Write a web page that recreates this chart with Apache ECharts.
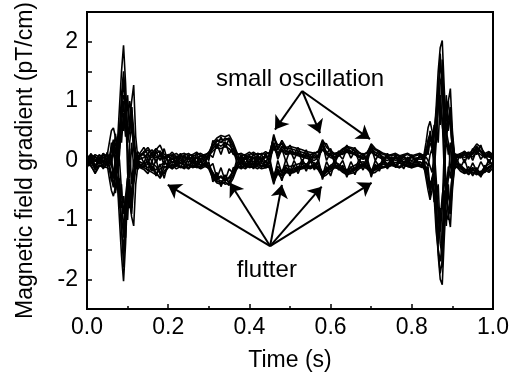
<!DOCTYPE html>
<html>
<head>
<meta charset="utf-8">
<script src="https://cdn.jsdelivr.net/npm/echarts@6/dist/echarts.min.js"></script>
<style>html,body{margin:0;padding:0;background:#fff}#c{width:527px;height:377px}</style>
</head>
<body>
<div id="c"></div>
<script>
// time samples (s)
const T = [0,0.01,0.02,0.03,0.04,0.05,
 0.055,0.06,0.065,0.07,0.075,0.08,0.085,0.09,0.095,0.1,0.105,0.11,0.115,0.12,0.125,0.13,
 0.14,0.15,0.16,0.17,0.18,0.19,0.2,0.21,0.22,0.23,0.24,0.25,0.26,0.27,0.28,0.29,0.3,0.31,0.32,0.33,0.34,0.35,0.36,0.37,0.38,0.39,0.4,0.41,0.42,0.43,0.44,0.45,0.46,0.47,0.48,0.49,
 0.5,0.51,0.52,0.53,0.54,0.55,0.56,0.57,0.58,0.59,0.6,0.61,0.62,0.63,0.64,0.65,0.66,0.67,0.68,0.69,0.7,0.71,0.72,0.73,0.74,0.75,0.76,0.77,0.78,0.79,0.8,0.81,0.82,
 0.825,0.83,0.835,0.84,0.845,0.85,0.855,0.86,0.865,0.87,0.875,0.88,0.885,0.89,0.895,0.9,0.905,0.91,
 0.92,0.93,0.94,0.95,0.96,0.97,0.98,0.99,1.0];

// channel traces (pT/cm)
const ch1 = [0.05,0.08,-0.02,0.1,0.04,0.08,
 0.02,0.15,0.25,0.1,0.3,0.9,1.5,1.94,1.3,0.4,0.6,0.9,0.5,0.1,0.05,0.12,
 0.22,0.1,0.05,0.18,0.26,0.1,0.08,0.14,0.06,0.1,0.12,0.08,0.1,0.14,0.08,0.1,0.12,0.3,0.38,0.42,0.4,0.43,0.3,0.12,0.08,0.1,0.14,0.08,0.12,0.1,0.15,0.1,0.44,0.2,0.34,0.22,
 0.24,0.22,0.2,0.18,0.15,0.14,0.12,0.16,0.35,0.22,0.16,0.12,0.14,0.2,0.24,0.22,0.2,0.14,0.1,0.12,0.28,0.2,0.16,0.12,0.1,0.08,0.1,0.06,0.08,0.1,0.06,0.08,0.1,
 0.05,0.1,0.08,0.2,0.3,0.2,0.4,0.9,1.5,1.9,2.02,1.2,0.5,0.7,0.9,0.4,0.1,0.08,
 0.12,0.15,0.1,0.18,0.28,0.22,0.12,0.15,0.1];
const ch2 = [-0.05,-0.1,-0.2,-0.08,-0.12,-0.06,
 -0.1,-0.2,-0.3,-0.15,-0.4,-1.0,-1.6,-2.03,-1.4,-0.5,-0.7,-0.9,-0.4,-0.15,-0.08,-0.12,
 -0.15,-0.22,-0.1,-0.2,-0.3,-0.18,-0.1,-0.14,-0.08,-0.12,-0.1,-0.14,-0.08,-0.12,-0.1,-0.08,-0.14,-0.3,-0.38,-0.4,-0.36,-0.42,-0.3,-0.12,-0.1,-0.14,-0.08,-0.12,-0.1,-0.14,-0.12,-0.1,-0.36,-0.22,-0.3,-0.2,
 -0.22,-0.2,-0.16,-0.14,-0.12,-0.14,-0.1,-0.16,-0.28,-0.24,-0.18,-0.12,-0.14,-0.2,-0.24,-0.22,-0.2,-0.14,-0.1,-0.14,-0.22,-0.2,-0.14,-0.12,-0.1,-0.08,-0.1,-0.12,-0.08,-0.1,-0.12,-0.08,-0.1,
 -0.08,-0.12,-0.1,-0.25,-0.4,-0.3,-0.5,-1.0,-1.6,-2.0,-2.09,-1.3,-0.6,-0.8,-0.9,-0.4,-0.15,-0.1,
 -0.18,-0.22,-0.15,-0.2,-0.24,-0.18,-0.2,-0.12,-0.1];
const ch3 = [0.02,-0.04,0.06,0.0,0.05,0.02,
 0.0,0.05,0.1,0.0,-0.2,0.1,0.6,1.0,0.5,0.3,0.7,1.0,1.27,0.4,0.05,0.08,
 0.1,0.05,0.12,0.04,0.08,0.02,0.06,0.1,0.03,0.07,0.05,0.02,0.06,0.04,0.08,0.05,0.1,0.2,0.28,0.24,0.3,0.26,0.18,0.06,0.03,0.05,0.08,0.04,0.06,0.02,0.05,0.08,0.3,0.12,0.24,0.15,
 0.16,0.14,0.12,0.1,0.08,0.06,0.05,0.1,0.26,0.14,0.1,0.06,0.1,0.15,0.18,0.16,0.12,0.08,0.05,0.08,0.2,0.14,0.1,0.06,0.04,0.06,0.03,0.05,0.02,0.04,0.06,0.03,0.05,
 0.04,0.02,0.06,0.0,-0.1,-0.2,0.1,0.5,0.9,1.1,0.6,0.3,0.7,1.0,1.21,0.5,0.1,0.05,
 0.08,0.05,0.1,0.06,0.15,0.1,0.05,0.08,0.04];
const ch4 = [-0.02,0.03,-0.08,-0.04,0.0,-0.05,
 -0.03,-0.08,-0.2,-0.05,0.2,0.0,-0.5,-0.9,-0.6,-0.3,-0.7,-0.95,-1.1,-0.4,-0.1,-0.06,
 -0.08,-0.12,-0.05,-0.1,-0.2,-0.22,-0.12,-0.06,-0.1,-0.04,-0.08,-0.06,-0.1,-0.05,-0.08,-0.04,-0.1,-0.2,-0.32,-0.28,-0.35,-0.3,-0.2,-0.08,-0.05,-0.1,-0.06,-0.08,-0.04,-0.1,-0.06,-0.08,-0.3,-0.16,-0.2,-0.12,
 -0.16,-0.14,-0.1,-0.12,-0.08,-0.1,-0.06,-0.12,-0.24,-0.18,-0.12,-0.08,-0.1,-0.16,-0.2,-0.18,-0.14,-0.1,-0.06,-0.1,-0.18,-0.14,-0.1,-0.06,-0.08,-0.05,-0.08,-0.04,-0.06,-0.08,-0.05,-0.07,-0.04,
 -0.04,-0.06,-0.02,-0.1,0.1,0.2,-0.1,-0.5,-0.8,-1.0,-0.6,-0.3,-0.6,-0.9,-1.12,-0.5,-0.12,-0.06,
 -0.1,-0.16,-0.22,-0.14,-0.2,-0.24,-0.15,-0.1,-0.06];
const ch5 = [0.0,0.06,0.02,-0.06,0.08,0.1,
 0.3,0.5,0.55,0.4,0.1,-0.6,-1.2,-1.5,-0.9,-0.3,-0.5,-0.7,-0.3,0.0,0.05,0.02,
 0.05,0.12,0.18,0.08,0.02,0.06,0.0,0.04,-0.02,0.03,0.0,0.05,0.02,-0.02,0.04,0.0,0.06,0.25,0.35,0.3,0.38,0.34,0.22,0.04,0.0,0.05,0.02,-0.02,0.04,0.0,0.06,0.02,0.25,0.08,0.2,0.1,
 0.12,0.1,0.08,0.06,0.04,0.02,0.0,0.06,0.2,0.1,0.05,0.02,0.08,0.12,0.16,0.14,0.1,0.05,0.02,0.06,0.16,0.1,0.05,0.02,0.0,0.04,0.0,0.03,-0.02,0.02,0.0,0.04,0.02,
 0.02,0.1,0.3,0.55,0.66,0.5,0.2,-0.3,-0.9,-1.4,-1.6,-1.0,-0.4,-0.6,-0.7,-0.2,0.0,0.05,
 0.06,0.1,0.04,0.12,0.2,0.14,0.06,0.1,0.05];
const ch6 = [-0.06,0.0,-0.1,0.04,-0.04,-0.08,
 -0.3,-0.5,-0.6,-0.45,-0.1,0.5,1.1,1.5,1.0,0.3,0.5,0.7,0.3,0.0,-0.05,-0.02,
 -0.06,-0.02,-0.1,-0.16,-0.08,-0.04,-0.08,-0.02,-0.06,0.0,-0.04,-0.08,-0.02,-0.06,-0.03,-0.07,-0.05,-0.22,-0.3,-0.26,-0.32,-0.28,-0.18,-0.05,-0.02,-0.06,-0.03,-0.07,-0.02,-0.05,-0.08,-0.03,-0.25,-0.1,-0.18,-0.08,
 -0.1,-0.08,-0.06,-0.04,-0.06,-0.02,-0.04,-0.08,-0.2,-0.14,-0.08,-0.04,-0.06,-0.12,-0.16,-0.12,-0.08,-0.04,-0.02,-0.06,-0.16,-0.1,-0.06,-0.03,-0.05,-0.02,-0.04,0.0,-0.03,-0.05,-0.02,-0.04,-0.02,
 -0.04,-0.1,-0.3,-0.5,-0.66,-0.5,-0.2,0.3,0.9,1.3,1.5,1.0,0.4,0.6,0.7,0.2,0.0,-0.04,
 -0.08,-0.14,-0.18,-0.12,-0.16,-0.2,-0.1,-0.06,-0.04];
const ch7 = [0.04,0.1,0.06,0.02,0.12,0.05,
 0.1,0.0,0.2,0.3,0.1,0.4,0.8,1.1,1.0,-0.2,-0.8,-0.5,-0.2,0.1,0.15,0.1,
 0.12,0.18,0.08,0.12,0.16,0.06,0.1,0.08,0.12,0.06,0.09,0.12,0.07,0.1,0.12,0.08,0.14,0.24,0.32,0.36,0.34,0.38,0.26,0.1,0.12,0.08,0.1,0.14,0.09,0.12,0.1,0.14,0.38,0.26,0.28,0.2,
 0.2,0.18,0.16,0.14,0.12,0.1,0.12,0.14,0.3,0.28,0.14,0.1,0.12,0.18,0.22,0.2,0.16,0.12,0.1,0.14,0.24,0.18,0.14,0.1,0.08,0.1,0.12,0.08,0.1,0.12,0.08,0.1,0.12,
 0.1,0.08,0.12,0.3,0.4,0.3,0.5,0.8,1.2,1.6,1.4,0.2,-0.6,-0.3,0.2,0.3,0.12,0.1,
 0.1,0.12,0.14,0.1,0.22,0.16,0.1,0.12,0.08];
const ch8 = [-0.1,-0.04,-0.14,-0.08,-0.1,-0.12,
 -0.15,-0.25,-0.4,-0.2,-0.3,-0.6,-1.0,-1.2,-1.3,-0.4,0.3,0.6,0.2,-0.1,-0.15,-0.1,
 -0.12,-0.16,-0.2,-0.24,-0.14,-0.1,-0.12,-0.08,-0.14,-0.1,-0.12,-0.08,-0.12,-0.1,-0.14,-0.1,-0.12,-0.26,-0.36,-0.34,-0.4,-0.38,-0.24,-0.1,-0.14,-0.08,-0.12,-0.1,-0.14,-0.08,-0.12,-0.1,-0.32,-0.2,-0.26,-0.18,
 -0.2,-0.18,-0.14,-0.12,-0.1,-0.12,-0.08,-0.14,-0.26,-0.2,-0.14,-0.1,-0.12,-0.18,-0.22,-0.2,-0.16,-0.12,-0.08,-0.12,-0.2,-0.16,-0.12,-0.1,-0.12,-0.08,-0.1,-0.12,-0.08,-0.1,-0.12,-0.1,-0.08,
 -0.1,-0.14,-0.2,-0.4,-0.5,-0.3,-0.6,-1.2,-1.5,-1.7,-1.4,-0.2,0.5,0.3,-0.1,-0.2,-0.12,-0.1,
 -0.14,-0.2,-0.16,-0.24,-0.18,-0.22,-0.16,-0.2,-0.12];
const ch9 = [0.08,0.02,0.1,0.06,0.0,0.04,
 0.06,0.2,0.35,0.2,0.0,0.3,0.9,1.4,0.7,0.6,1.0,0.8,0.3,0.05,0.08,0.06,
 0.15,0.22,0.12,0.2,0.12,0.04,0.06,0.02,0.05,0.08,0.04,0.06,0.03,0.06,0.02,0.06,0.08,0.16,0.22,0.2,0.24,0.2,0.12,0.04,0.06,0.02,0.06,0.03,0.07,0.04,0.08,0.06,0.2,0.1,0.16,0.12,
 0.14,0.12,0.1,0.08,0.06,0.08,0.04,0.08,0.18,0.12,0.08,0.05,0.08,0.12,0.14,0.12,0.1,0.06,0.04,0.06,0.14,0.1,0.06,0.04,0.06,0.02,0.05,0.03,0.06,0.02,0.05,0.03,0.06,
 0.06,0.04,0.15,0.35,0.45,0.3,0.1,0.4,1.0,1.8,1.2,0.6,0.9,1.0,0.6,0.2,0.05,0.08,
 0.06,0.1,0.06,0.14,0.24,0.16,0.08,0.06,0.04];
const ch10 = [-0.03,-0.08,-0.22,-0.1,-0.06,-0.02,
 -0.08,-0.3,-0.45,-0.3,-0.1,-0.4,-1.1,-1.8,-0.9,-0.6,-0.8,-0.6,-0.2,-0.06,-0.04,-0.08,
 -0.1,-0.06,-0.14,-0.22,-0.28,-0.12,-0.08,-0.12,-0.06,-0.1,-0.14,-0.06,-0.1,-0.08,-0.12,-0.06,-0.1,-0.24,-0.34,-0.38,-0.3,-0.36,-0.26,-0.08,-0.12,-0.06,-0.1,-0.12,-0.06,-0.1,-0.08,-0.12,-0.34,-0.18,-0.24,-0.16,
 -0.18,-0.16,-0.12,-0.1,-0.08,-0.1,-0.12,-0.1,-0.22,-0.16,-0.1,-0.08,-0.1,-0.14,-0.18,-0.16,-0.12,-0.08,-0.06,-0.08,-0.18,-0.12,-0.08,-0.06,-0.1,-0.06,-0.08,-0.1,-0.06,-0.08,-0.1,-0.06,-0.08,
 -0.06,-0.1,-0.2,-0.4,-0.5,-0.3,-0.2,-0.8,-1.5,-1.9,-1.7,-0.8,-0.9,-1.0,-0.6,-0.2,-0.08,-0.06,
 -0.12,-0.18,-0.24,-0.16,-0.22,-0.26,-0.18,-0.12,-0.08];
const ch11 = [0.1,-0.05,0.08,-0.06,0.12,-0.04,
 0.08,-0.1,0.3,-0.2,0.4,0.2,0.7,0.5,0.9,0.2,-0.3,0.3,-0.1,0.12,-0.05,0.1,
 0.1,-0.06,0.14,-0.04,0.12,-0.08,0.1,-0.05,0.08,-0.06,0.1,-0.04,0.09,-0.07,0.1,-0.05,0.12,0.05,0.28,0.1,0.32,0.12,0.2,-0.06,0.1,-0.05,0.08,-0.07,0.1,-0.04,0.12,-0.06,0.3,0.02,0.2,-0.02,
 0.18,0.02,0.16,-0.02,0.12,-0.04,0.1,-0.02,0.28,0.0,0.14,-0.04,0.1,0.02,0.2,0.04,0.16,-0.02,0.1,-0.04,0.22,0.0,0.12,-0.04,0.1,-0.06,0.08,-0.05,0.1,-0.06,0.08,-0.04,0.1,
 0.1,-0.05,0.2,0.1,0.5,0.3,0.1,0.6,0.3,1.0,0.7,-0.2,0.4,0.1,0.3,-0.1,0.1,-0.05,
 0.12,-0.04,0.14,0.0,0.18,0.02,0.12,-0.04,0.1];
const ch12 = [-0.08,0.06,-0.12,0.04,-0.1,0.05,
 -0.06,0.1,-0.3,0.1,-0.5,-0.3,-0.8,-0.6,-1.0,-0.3,0.2,-0.4,0.0,-0.12,0.05,-0.1,
 -0.12,0.04,-0.18,0.02,-0.24,0.0,-0.1,0.05,-0.08,0.06,-0.1,0.04,-0.08,0.06,-0.1,0.05,-0.12,-0.05,-0.3,-0.12,-0.34,-0.14,-0.22,0.04,-0.1,0.05,-0.08,0.06,-0.1,0.04,-0.12,0.05,-0.3,0.0,-0.22,0.02,
 -0.18,0.0,-0.14,0.02,-0.1,0.04,-0.08,0.0,-0.26,-0.02,-0.16,0.02,-0.1,0.0,-0.2,-0.02,-0.16,0.02,-0.08,0.04,-0.2,0.0,-0.1,0.04,-0.08,0.05,-0.1,0.04,-0.08,0.06,-0.1,0.04,-0.08,
 -0.08,0.05,-0.2,-0.1,-0.55,-0.3,-0.1,-0.6,-0.4,-1.2,-0.8,0.2,-0.5,-0.1,-0.3,0.1,-0.1,0.04,
 -0.12,0.02,-0.2,-0.04,-0.18,-0.02,-0.14,0.02,-0.1];
const ch13 = [0.0,0.12,-0.1,0.06,-0.04,0.14,
 -0.05,0.3,0.1,0.45,0.2,0.6,0.3,0.8,0.4,1.1,0.5,0.9,0.2,0.05,-0.08,0.1,
 -0.04,0.12,-0.02,0.16,0.0,0.2,-0.04,0.1,-0.06,0.12,-0.02,0.1,-0.05,0.12,-0.03,0.1,0.0,0.34,0.2,0.4,0.22,0.36,0.1,0.12,-0.04,0.1,-0.06,0.12,-0.02,0.1,-0.04,0.12,0.4,0.18,0.3,0.14,
 0.26,0.1,0.22,0.06,0.18,0.02,0.14,0.04,0.32,0.12,0.2,0.04,0.16,0.1,0.26,0.12,0.22,0.06,0.12,0.02,0.26,0.08,0.16,0.0,0.12,-0.02,0.1,-0.04,0.08,-0.02,0.1,-0.04,0.08,
 0.1,-0.04,0.2,0.1,0.4,0.25,0.6,0.3,1.3,0.6,1.7,0.4,1.1,0.5,0.8,0.1,0.0,0.1,
 0.04,0.16,0.02,0.2,0.1,0.26,0.04,0.14,0.0];
const ch14 = [-0.12,0.02,-0.16,0.0,-0.14,-0.02,
 -0.1,-0.35,-0.15,-0.55,-0.3,-0.8,-0.4,-1.3,-0.6,-1.0,-0.3,-0.8,-0.3,-0.1,0.02,-0.12,
 -0.02,-0.18,0.0,-0.26,-0.06,-0.3,-0.02,-0.14,0.02,-0.12,0.0,-0.14,0.02,-0.12,0.0,-0.1,-0.02,-0.36,-0.2,-0.44,-0.24,-0.4,-0.12,-0.14,0.02,-0.12,0.0,-0.14,0.02,-0.12,0.0,-0.14,-0.4,-0.14,-0.34,-0.1,
 -0.26,-0.08,-0.22,-0.04,-0.18,0.0,-0.16,-0.02,-0.32,-0.1,-0.26,-0.04,-0.16,-0.08,-0.28,-0.1,-0.24,-0.04,-0.16,0.0,-0.28,-0.06,-0.18,0.0,-0.14,0.02,-0.12,-0.02,-0.14,0.0,-0.12,0.02,-0.1,
 -0.12,0.0,-0.25,-0.15,-0.6,-0.3,-0.7,-0.5,-1.4,-0.8,-1.8,-0.5,-1.1,-0.4,-0.9,-0.1,0.02,-0.12,
 -0.06,-0.22,-0.1,-0.26,-0.12,-0.28,-0.08,-0.18,-0.04];

const channels = [ch1, ch2, ch3, ch4, ch5, ch6, ch7, ch8, ch9, ch10, ch11, ch12, ch13, ch14];

// annotations (data coordinates)
const smallOscFrom = [0.530, 1.17];
const smallOscTo = [[0.463, 0.52], [0.574, 0.46], [0.697, 0.36]];
const flutterFrom = [0.451, -1.44];
const flutterTo = [[0.199, -0.41], [0.352, -0.375], [0.480, -0.41], [0.578, -0.44], [0.701, -0.375]];
const labels = [{name: 'small oscillation', coord: [0.525, 1.37]}, {name: 'flutter', coord: [0.443, -1.85]}];

const FONT = '"Liberation Sans", Arial, sans-serif';
const chart = echarts.init(document.getElementById('c'), null, {renderer: 'canvas'});

const series = channels.map((ch) => ({
  type: 'line',
  data: T.map((t, i) => [t, ch[i]]),
  showSymbol: false,
  symbol: 'none',
  lineStyle: {color: '#000', width: 1.6},
  silent: true,
  z: 2
}));

const arrowData = [];
smallOscTo.forEach(p => arrowData.push([{coord: smallOscFrom}, {coord: p}]));
flutterTo.forEach(p => arrowData.push([{coord: flutterFrom}, {coord: p}]));

series.push({
  type: 'line',
  data: [],
  silent: true,
  markLine: {
    silent: true,
    symbol: ['none', 'arrow'],
    symbolSize: 13,
    label: {show: false},
    lineStyle: {color: '#000', width: 2, type: 'solid'},
    emphasis: {disabled: true},
    animation: false,
    data: arrowData
  },
  markPoint: {
    silent: true,
    symbol: 'rect',
    symbolSize: 1,
    itemStyle: {color: 'rgba(0,0,0,0)'},
    label: {show: true, position: 'inside', formatter: '{b}', color: '#000', fontSize: 24, fontFamily: FONT},
    animation: false,
    data: labels.map(l => ({name: l.name, coord: l.coord}))
  }
});

chart.setOption({
  animation: false,
  backgroundColor: '#fff',
  grid: {left: 87, right: 34, top: 9, bottom: 66, show: true, borderColor: '#000', borderWidth: 2, backgroundColor: 'transparent'},
  xAxis: {
    type: 'value', min: 0, max: 1, interval: 0.2,
    name: 'Time (s)', nameLocation: 'middle', nameGap: 40,
    nameTextStyle: {fontSize: 23, fontFamily: FONT, color: '#000'},
    axisLine: {onZero: false, lineStyle: {color: '#000', width: 2}},
    axisTick: {inside: true, length: 5, lineStyle: {color: '#000', width: 1.5}},
    minorTick: {show: true, splitNumber: 2, length: 3, lineStyle: {color: '#000', width: 1.5}},
    axisLabel: {margin: 7, fontSize: 23, fontFamily: FONT, color: '#000', formatter: v => v.toFixed(1)},
    splitLine: {show: false}
  },
  yAxis: {
    type: 'value', min: -2.5, max: 2.5, interval: 0.5,
    name: 'Magnetic field gradient (pT/cm)', nameLocation: 'middle', nameGap: 50,
    nameTextStyle: {fontSize: 23, fontFamily: FONT, color: '#000'},
    axisLine: {onZero: false, lineStyle: {color: '#000', width: 2}},
    axisTick: {inside: true, length: 5, lineStyle: {color: '#000', width: 1.5}},
    axisLabel: {margin: 9, fontSize: 23, fontFamily: FONT, color: '#000',
      formatter: v => (Math.abs(v % 1) < 1e-9 ? String(Math.round(v)) : '')},
    splitLine: {show: false}
  },
  series: series
});
</script>
</body>
</html>
